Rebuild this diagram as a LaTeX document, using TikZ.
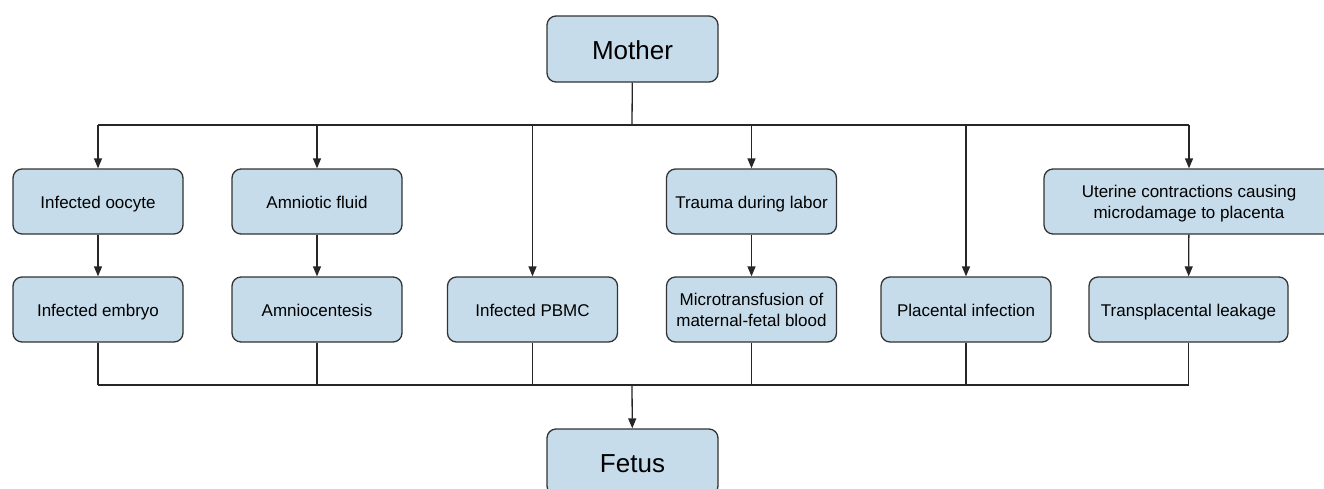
\documentclass[tikz,border=0pt]{standalone}
\usepackage{fontspec}
\setmainfont{Liberation Sans}
\usetikzlibrary{arrows.meta}
\definecolor{boxblue}{RGB}{198,220,234}
\newcommand\boxstrut{\rule[-0.35em]{0pt}{1.47em}}
\newcommand\twolines[2]{\begin{tabular}{@{}c@{}}\boxstrut#1\\#2\end{tabular}}
\tikzset{
  box/.style={draw=black!80, fill=boxblue, rounded corners=9pt, line width=1.3pt,
    minimum width=170pt, minimum height=65pt, inner sep=0pt, align=center,
    font=\fontsize{17}{20.5}\selectfont,
    execute at begin node=\boxstrut, execute at end node=\boxstrut},
  big/.style={box, minimum width=171pt, minimum height=66pt, font=\fontsize{26}{30}\selectfont},
  link/.style={line width=1.3pt, draw=black!85},
  arr/.style={link, -{Triangle[length=10pt,width=8pt]}},
}

\begin{document}
\begin{tikzpicture}[x=1pt,y=-1pt]
    \useasboundingbox (0,0) rectangle (1324,488);
    \clip (0,0) rectangle (1324,488);

    \node[big] (mother) at (632.5,49) {Mother};
    \coordinate (split) at (632,125);
    \coordinate (merge) at (632,385);

    % first row
    \node[box] (oocyte) at (98,201.5) {Infected oocyte};
    \node[box] (fluid) at (317,201.5) {Amniotic fluid};
    \node[box] (trauma) at (751.5,201.5) {Trauma during labor};
    \node[box, minimum width=290pt] (uterine) at (1189,201.5) {\twolines{Uterine contractions causing}{microdamage to placenta}};

    % second row
    \node[box] (embryo) at (98,309.5) {Infected embryo};
    \node[box] (amnio) at (317,309.5) {Amniocentesis};
    \node[box] (pbmc) at (532.5,309.5) {Infected PBMC};
    \node[box] (micro) at (751.5,309.5) {\twolines{Microtransfusion of}{maternal-fetal blood}};
    \node[box] (placenta) at (966,309.5) {Placental infection};
    \node[box, minimum width=199pt] (leak) at (1188.5,309.5) {Transplacental leakage};

    \node[big] (fetus) at (632.5,462) {Fetus};

    \draw[link] (mother) -- (split);
    \draw[link] (oocyte.north |- split) -- (uterine.north |- split);
    \foreach \n in {oocyte,fluid,pbmc,trauma,placenta,uterine}
      \draw[arr] (\n.north |- split) -- (\n.north);
    \foreach \a/\b in {oocyte/embryo,fluid/amnio,trauma/micro,uterine/leak}
      \draw[arr] (\a) -- (\b);

    \foreach \n in {embryo,amnio,pbmc,micro,placenta,leak}
      \draw[link] (\n) -- (\n.south |- merge);
    \draw[link] (embryo.south |- merge) -- (leak.south |- merge);
    \draw[arr] (merge) -- (fetus);
\end{tikzpicture}
\end{document}
